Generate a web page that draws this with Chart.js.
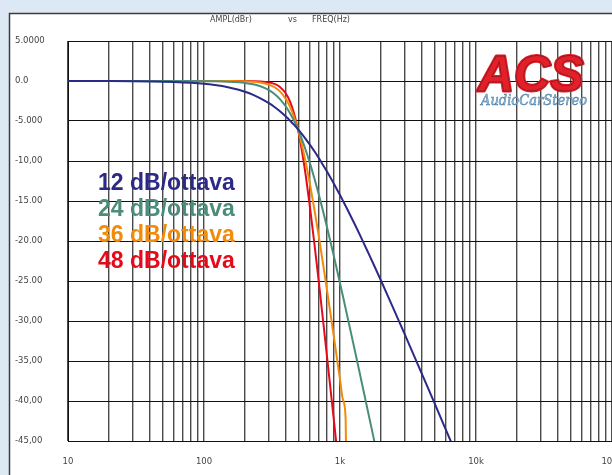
<!DOCTYPE html>
<html lang="it">
<head>
<meta charset="UTF-8">
<title>AMPL(dBr) vs FREQ(Hz)</title>
<style>
  html, body { margin: 0; padding: 0; background: #dde8f5; }
  #wrap { width: 612px; height: 475px; }
</style>
</head>
<body>
<div id="wrap"><canvas id="filtri" width="612" height="475"></canvas></div>
<script src="https://cdn.jsdelivr.net/npm/chart.js"></script>
<script>
// frequenze (Hz) e risposte (dB)
const freqs = [10, 20, 30, 40, 50, 60, 80, 100, 120, 150, 180, 200, 230, 260, 300, 330, 360,
  400, 430, 460, 490, 520, 560, 600, 650, 700, 750, 800, 850, 900, 950, 1000, 1050, 1100, 1110,
  1200, 1300, 1400, 1500, 1600, 1800, 2000, 2200, 2500, 3000, 3500, 4000, 4500, 5000, 5500,
  6000, 6500, 7000];

const slope12 = [0, -0.01, -0.03, -0.06, -0.09, -0.13, -0.23, -0.35, -0.51, -0.78, -1.10, -1.34,
  -1.73, -2.16, -2.77, -3.25, -3.75, -4.44, -4.96, -5.49, -6.02, -6.55, -7.26, -7.96, -8.82,
  -9.66, -10.49, -11.28, -12.06, -12.82, -13.55, -14.26, -14.95, -15.62, -15.75, -16.90, -18.10,
  -19.24, -20.32, -21.34, -23.22, -24.94, -26.51, -28.64, -31.71, -34.32, -36.60, -38.62,
  -40.43, -42.08, -43.58, -44.96, -46.24];

const slope24 = [0, 0, 0, 0, 0, 0, -0.01, -0.02, -0.03, -0.08, -0.16, -0.24, -0.41, -0.66,
  -1.14, -1.63, -2.23, -3.19, -4.05, -4.99, -6.02, -7.11, -8.65, -10.23, -12.25, -14.26,
  -16.24, -18.18, -20.05, -21.86, -23.60, -25.27, -26.88, -28.43, -28.74, -31.36, -34.07,
  -36.60, -38.97, -41.19, -45.25,
  null, null, null, null, null, null, null, null, null, null, null, null];

const slope36 = [0, 0, 0, 0, 0, 0, 0, 0, 0, -0.01, -0.02, -0.04, -0.09, -0.19, -0.45, -0.78,
  -1.27, -2.25, -3.27, -4.53, -6.02, -7.71, -10.18, -12.81, -16.19, -19.55, -22.83, -26.00,
  -29.02, -31.91, -34.66, -37.30, -39.81, -42.18, -47.50,
  null, null, null, null, null, null, null, null, null, null, null, null, null, null, null,
  null, null, null];

const slope48 = [0, 0, 0, 0, 0, 0, 0, 0, 0, 0, 0, -0.01, -0.02, -0.05, -0.17, -0.36, -0.71,
  -1.57, -2.62, -4.10, -6.02, -8.33, -11.84, -15.64, -20.50, -25.27, -29.86, -34.23, -38.38,
  -42.31, -46.05,
  null, null, null, null, null, null, null, null, null, null, null, null, null, null, null,
  null, null, null, null, null, null, null];

const seriesNames = ["12 dB/ottava", "24 dB/ottava", "36 dB/ottava", "48 dB/ottava"];
const seriesValues = [slope12, slope24, slope36, slope48];
const seriesColors = ["#2c2a86", "#4b8c7b", "#f28a0a", "#e50a1a"];

const xTickLabels = { 10: "10", 100: "100", 1000: "1k", 10000: "10k", 100000: "100k" };
const yTicks = [5, 0, -5, -10, -15, -20, -25, -30, -35, -40, -45];
const yTickLabels = ["5.0000", "0.0", "-5.000", "-10,00", "-15.00", "-20.00", "-25.00",
  "-30,00", "-35,00", "-40,00", "-45,00"];

Chart.defaults.font.family = '"DejaVu Sans", sans-serif';

// sfondo azzurro e riquadro bianco
const sfondo = {
  id: 'sfondo',
  beforeDraw(chart) {
    const c = chart.ctx;
    c.save();
    c.fillStyle = '#dde8f5';
    c.fillRect(0, 0, chart.width, chart.height);
    c.fillStyle = '#ffffff';
    c.fillRect(9, 13, chart.width, chart.height);
    c.strokeStyle = '#3c3c3c';
    c.lineWidth = 1.5;
    c.beginPath();
    c.moveTo(9.5, chart.height);
    c.lineTo(9.5, 13.5);
    c.lineTo(chart.width, 13.5);
    c.stroke();
    c.restore();
  }
};

// titolo, legenda nel grafico e logo
const scritte = {
  id: 'scritte',
  afterDraw(chart) {
    const c = chart.ctx;
    c.save();
    c.fillStyle = '#444';
    c.font = '8px "DejaVu Sans"';
    c.textBaseline = 'middle';
    c.fillText('AMPL(dBr)', 210, 20);
    c.fillText('vs', 288, 20);
    c.fillText('FREQ(Hz)', 312, 20);

    c.font = 'bold 23px "Liberation Sans"';
    c.textBaseline = 'alphabetic';
    seriesNames.forEach((name, i) => {
      c.fillStyle = seriesColors[i];
      c.fillText(name, 98, 190 + 26 * i);
    });

    // logo ACS
    c.font = 'italic bold 50px "Liberation Sans"';
    c.lineJoin = 'round';
    c.strokeStyle = '#e3202a';
    c.lineWidth = 3;
    c.strokeText('ACS', 478, 91);
    c.fillStyle = '#e3202a';
    c.fillText('ACS', 478, 91);
    c.strokeStyle = '#8a1a1e';
    c.lineWidth = 0.8;
    c.strokeText('ACS', 478, 91);

    c.font = 'italic 14px "DejaVu Serif"';
    const w = c.measureText('AudioCarStereo').width;
    c.translate(481, 105);
    c.scale(106 / w, 1);
    c.fillStyle = '#8cc4e8';
    c.strokeStyle = '#4a7398';
    c.lineWidth = 0.5;
    c.fillText('AudioCarStereo', 0, 0);
    c.strokeText('AudioCarStereo', 0, 0);
    c.restore();
  }
};

new Chart(document.getElementById('filtri'), {
  type: 'line',
  data: {
    datasets: seriesValues.map((vals, i) => ({
      label: seriesNames[i],
      data: freqs.map((f, j) => ({ x: f, y: vals[j] })),
      borderColor: seriesColors[i],
      borderWidth: 2,
      pointRadius: 0,
      cubicInterpolationMode: 'monotone',
      spanGaps: false
    }))
  },
  options: {
    responsive: false,
    animation: false,
    layout: { padding: { left: 15, top: 41, right: 0, bottom: 0 } },
    plugins: { legend: { display: false }, tooltip: { enabled: false } },
    scales: {
      x: {
        type: 'logarithmic',
        min: 10,
        max: 100000,
        afterBuildTicks(scale) {
          const t = [];
          for (let d = 10; d < 100000; d *= 10) {
            for (let k = 1; k < 10; k++) t.push({ value: d * k });
          }
          t.push({ value: 100000 });
          scale.ticks = t;
        },
        afterFit(scale) {
          scale.height = 34;
          scale.paddingLeft = 0;
          scale.paddingRight = 0;
        },
        grid: { color: '#4a4a4a', lineWidth: 1.4, drawTicks: false },
        border: { color: '#111', width: 1 },
        ticks: {
          autoSkip: false,
          maxRotation: 0,
          padding: 16,
          color: '#444',
          font: { size: 8.5 },
          callback: (v) => xTickLabels[v] ?? ''
        }
      },
      y: {
        min: -45,
        max: 5,
        afterBuildTicks(scale) {
          scale.ticks = yTicks.map(v => ({ value: v }));
        },
        afterFit(scale) { scale.width = 53; },
        grid: { color: '#111', lineWidth: 1, drawTicks: false },
        border: { color: '#111', width: 1 },
        ticks: {
          crossAlign: 'far',
          padding: 0,
          color: '#444',
          font: { size: 8.5 },
          callback: (v) => yTickLabels[yTicks.indexOf(v)]
        }
      }
    }
  },
  plugins: [sfondo, scritte]
});
</script>
</body>
</html>
